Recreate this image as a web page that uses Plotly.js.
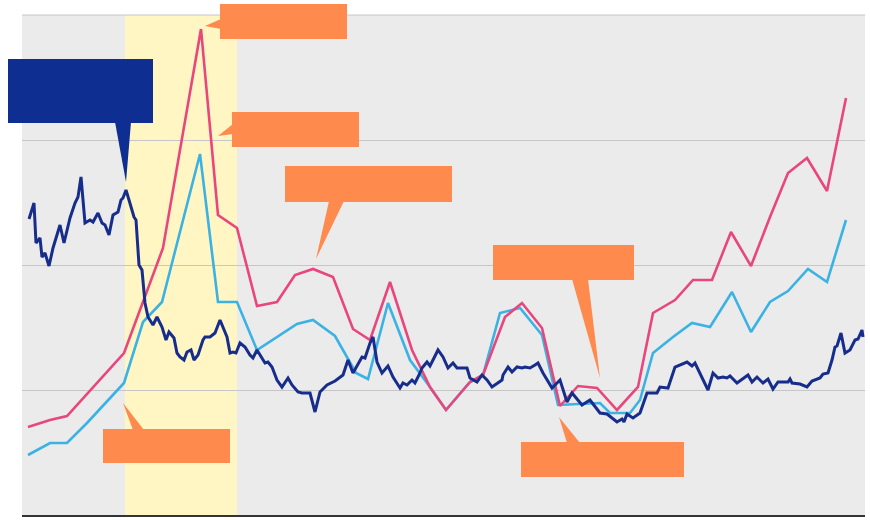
<!DOCTYPE html>
<html>
<head>
<meta charset="utf-8">
<script src="https://cdn.plot.ly/plotly-3.0.1.min.js"></script>
<style>html,body{margin:0;padding:0;background:#fff;}#chart{width:870px;height:520px;}</style>
</head>
<body>
<div id="chart"></div>
<script>
// ---- data (x: time index, y: value) ----
const pinkX = [6,28,45,102,141,179,196,215,235,255,273,291,311,331,348,368,390,408,424,448,461,483,500,520,538,556,575,595,616,631,653,671,690,709,729,748,766,785,805,824];
const pinkY = [8.8,9.5,9.9,16.2,26.7,48.6,30.0,28.7,20.9,21.3,24.0,24.6,23.8,18.6,17.5,23.3,16.5,12.8,10.5,13.3,14.0,19.8,21.2,18.7,10.9,12.9,12.7,10.5,12.8,20.2,21.5,23.5,23.5,28.3,24.9,29.8,34.2,35.7,32.4,41.7];

const blueX = [6,28,45,65,102,121,140,178,196,215,235,275,291,313,334,346,366,388,405,424,448,461,478,498,520,536,578,588,608,618,631,651,670,688,710,729,748,766,786,805,824];
const blueY = [6.0,7.2,7.2,9.2,13.2,19.3,21.3,36.1,21.3,21.3,16.5,19.1,19.5,17.9,14.2,13.6,21.2,15.5,13.2,10.5,13.3,14.0,20.2,20.7,18.0,11.0,11.2,10.2,10.2,11.5,16.2,17.8,19.2,18.8,22.3,18.3,21.3,22.4,24.6,23.3,29.5];

const navyX = [7,12,14,18,20,23,27,31,38,42,48,53,56,59,63,68,71,76,80,83,87,91,96,99,101,104,107,110,112,114,117,120,123,126,131,135,140,144,147,152,155,158,162,165,169,172,176,181,183,188,193,198,202,205,208,211,214,218,223,228,231,235,243,246,250,255,260,266,270,276,280,288,293,298,305,313,321,326,331,340,343,348,351,355,360,366,371,378,381,385,390,393,398,400,405,408,411,416,421,426,431,435,445,448,455,460,465,470,480,481,486,490,495,500,503,508,513,516,521,530,538,545,550,560,568,578,585,595,600,602,605,611,618,625,635,638,646,653,665,670,673,686,691,696,701,705,708,715,726,730,735,741,746,751,756,766,768,770,778,785,790,798,801,806,810,813,815,819,823,828,833,836,840,841];
const navyY = [29.6,31.2,27.2,27.7,25.8,26.2,24.9,26.7,29.0,27.2,29.7,31.2,31.8,33.8,29.2,29.5,29.3,30.2,29.2,29.0,28.0,30.0,30.3,31.5,31.7,32.5,31.5,30.3,29.8,29.5,25.0,24.5,21.2,19.8,19.0,19.8,18.8,17.5,18.3,17.7,16.2,15.8,15.5,16.3,16.5,15.5,16.0,17.5,17.8,17.8,18.2,19.5,18.5,17.8,16.2,16.3,16.2,17.2,16.8,16.0,15.7,16.5,15.2,15.3,14.8,13.5,12.8,13.7,13.0,12.3,12.2,12.2,10.3,12.3,13.0,13.4,14.0,15.5,14.2,15.8,15.7,17.2,17.8,15.3,14.2,14.9,13.8,12.7,13.2,13.0,13.5,13.2,14.2,14.7,15.3,14.9,15.5,16.5,15.8,14.7,15.2,14.7,14.7,13.7,13.3,14.0,13.5,12.8,13.5,14.0,14.8,14.3,14.8,14.7,14.8,14.7,15.0,15.2,14.2,12.7,13.5,11.3,12.2,11.0,11.5,10.2,10.1,9.3,9.6,9.3,10.1,9.7,10.2,12.2,12.2,12.8,12.7,14.8,15.3,14.9,15.2,12.5,14.2,13.7,13.8,13.7,13.9,13.2,14.0,13.3,13.8,13.2,13.6,12.6,13.3,13.3,13.6,13.2,13.1,12.8,13.4,13.7,14.1,14.2,15.5,16.8,16.9,18.2,16.2,16.5,17.5,17.6,18.5,17.8];

const bandStart = 103, bandEnd = 215;

// ---- layout helpers ----
const W = 870, H = 520, ML = 22, MR = 5, MT = 15, MB = 5;
const PW = W - ML - MR, PH = H - MT - MB;
const px = v => (v - ML) / PW;
const py = v => (H - MB - v) / PH;

const orange = '#ff8a4d', navyBox = '#0e2e92', grid = '#c6c6c6';
const callouts = [
  {box:[220,4,347,39], tri:[[205,26],[221,19],[221,29]], c:orange},
  {box:[232,112,359,147], tri:[[218,136],[233,124],[233,134]], c:orange},
  {box:[285,166,452,202], tri:[[316,259],[329,201],[344,201]], c:orange},
  {box:[103,429,230,463], tri:[[123,403],[133,430],[144,430]], c:orange},
  {box:[493,245,634,280], tri:[[600,378],[572,279],[588,279]], c:orange},
  {box:[521,442,684,477], tri:[[559,417],[567,443],[580,443]], c:orange},
  {box:[8,59,153,123], tri:[[126,182],[115,122],[131,122]], c:navyBox}
];

const shapes = [
  {type:'rect', xref:'x', yref:'paper', x0:bandStart, x1:bandEnd, y0:0, y1:1,
   fillcolor:'rgb(255,246,196)', line:{width:0}, layer:'below'},
  {type:'line', xref:'paper', yref:'paper', x0:0, x1:1, y0:1, y1:1,
   line:{color:grid, width:1}, layer:'above'}
];
callouts.forEach(o => {
  shapes.push({type:'rect', xref:'paper', yref:'paper',
    x0:px(o.box[0]), x1:px(o.box[2]), y0:py(o.box[3]), y1:py(o.box[1]),
    fillcolor:o.c, line:{width:0}, layer:'above'});
  const t = o.tri.map(p => px(p[0]) + ',' + py(p[1]));
  shapes.push({type:'path', xref:'paper', yref:'paper',
    path:'M' + t[0] + ' L' + t[1] + ' L' + t[2] + ' Z',
    fillcolor:o.c, line:{width:0}, layer:'above'});
});

const traces = [
  {x:blueX, y:blueY, mode:'lines', line:{color:'#3bb2e4', width:2.6}, hoverinfo:'skip'},
  {x:pinkX, y:pinkY, mode:'lines', line:{color:'#e8467c', width:2.6}, hoverinfo:'skip'},
  {x:navyX, y:navyY, mode:'lines', line:{color:'#172d8c', width:3}, hoverinfo:'skip'}
];

const layout = {
  width:W, height:H,
  margin:{l:ML, r:MR, t:MT, b:MB, pad:0},
  paper_bgcolor:'#ffffff', plot_bgcolor:'#ebebeb',
  showlegend:false,
  xaxis:{range:[0,843], showgrid:false, zeroline:false, showticklabels:false,
         showline:true, linecolor:'#333', linewidth:1.5, ticks:'', fixedrange:true},
  yaxis:{range:[0,50], dtick:12.5, tick0:0, showgrid:true, gridcolor:grid, gridwidth:1,
         zeroline:false, showticklabels:false, showline:false, ticks:'', fixedrange:true},
  shapes:shapes
};

Plotly.newPlot('chart', traces, layout, {staticPlot:true, displayModeBar:false});
</script>
</body>
</html>
